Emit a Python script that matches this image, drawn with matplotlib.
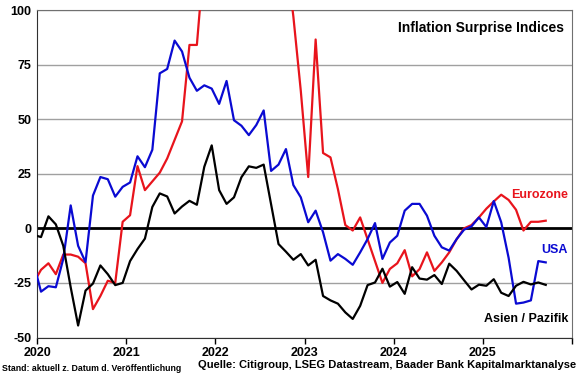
import numpy as np
import matplotlib
matplotlib.use('Agg')
import matplotlib.pyplot as plt

plt.rcParams['font.family'] = ['Liberation Sans', 'DejaVu Sans']

# monthly values, Dec 2019 .. Sep 2025
start_year = 2019
start_month = 12

eurozone = [-25, -19, -16, -21, -12, -12, -13, -16, -37, -31, -24, -25, 3, 6,
            28.5, 17.5, 21.5, 25.5, 32, 40.5, 49, 84, 84, 125, 140, 150, 160,
            165, 170, 160, 155, 150, 140, 135, 125, 97, 63, 23.5, 86.5, 34.5,
            32.5, 18, 1.5, -1, 5, -5, -15, -25, -18.6, -16, -10, -22, -18.7,
            -11, -19.5, -15.6, -11, -5, 0, 1.5, 5, 9, 12.3, 15.4, 13, 8.5, -1,
            3, 3, 3.5]
usa = [-16, -29, -26.5, -27, -14, 10.5, -8, -15.5, 15, 23.5, 22.5, 14.5, 19,
       21, 33, 28, 36, 71, 73, 86, 81, 69, 63, 65.5, 64, 57, 67.5, 49.5, 47,
       42.7, 47.3, 54, 26.3, 29.2, 36.3, 19.8, 14.2, 2.8, 8.1, -1.8, -14.8,
       -11.8, -14, -16.7, -11, -4.9, 2.4, -14, -6.5, -3.4, 8.1, 11.2, 11.2,
       5.8, -3.4, -8.7, -10.2, -4.9, -0.6, 0.9, 5, 0.6, 12.5, 2.8, -13.5,
       -34.5, -34, -33, -15, -15.6]
asia = [-3, -4, 5.5, 1.8, -8, -27, -44.5, -28.5, -25.3, -17, -21, -26, -25,
        -15, -9.5, -4.7, 9.8, 16, 14.6, 6.8, 10, 12.6, 10.8, 28.2, 38, 17.5,
        11.2, 14.2, 23.4, 28.4, 27.7, 29.2, 11, -7.2, -10.7, -14.4, -11.8,
        -17, -14.4, -31, -33, -34.5, -38.5, -41.5, -35.5, -26, -24.8, -18.5,
        -26.7, -24.6, -30, -17.8, -23, -23.5, -21.4, -25.5, -16.2, -19.5,
        -23.8, -28, -25.8, -26.3, -23.3, -29.5, -31, -26.3, -24.5, -25.7,
        -24.8, -25.9]

years = [2020, 2021, 2022, 2023, 2024, 2025, 2026]
year_labels = ['2020', '2021', '2022', '2023', '2024', '2025', '']
yticks = [-50, -25, 0, 25, 50, 75, 100]

n = len(eurozone)
t = start_year + (start_month - 1 + np.arange(n) + 0.5) / 12.0

fig = plt.figure(figsize=(5.8, 3.75), dpi=100)
ax = fig.add_axes([0.0643, 0.1, 0.9214, 0.8733])

for yv in yticks:
    if yv != 0:
        ax.axhline(yv, color='#a0a0a0', lw=1.0, zorder=1)
ax.axhline(0, color='black', lw=2.0, zorder=2)

ax.plot(t, eurozone, color='#e8141c', lw=1.6, zorder=3)
ax.plot(t, usa, color='#0a0ad2', lw=1.6, zorder=4)
ax.plot(t, asia, color='black', lw=1.6, zorder=5)

ax.set_xlim(2020, 2026)
ax.set_ylim(-50, 100)
ax.set_xticks(years)
ax.set_xticklabels(year_labels, fontweight='bold', fontsize=9)
ax.set_yticks(yticks)
ax.set_yticklabels([str(v) for v in yticks], fontweight='bold', fontsize=9)
ax.tick_params(axis='x', length=4, width=1, pad=3)
ax.tick_params(axis='y', length=0, pad=4)

for s in ['left', 'bottom']:
    ax.spines[s].set_color('#303030')
for s in ['top', 'right']:
    ax.spines[s].set_color('#707070')

ax.text(0.985, 0.965, 'Inflation Surprise Indices', transform=ax.transAxes,
        ha='right', va='top', fontsize=10, fontweight='bold')
ax.text(0.993, 0.436, 'Eurozone', transform=ax.transAxes, ha='right',
        va='center', fontsize=9, fontweight='bold', color='#e8141c')
ax.text(0.993, 0.267, 'USA', transform=ax.transAxes, ha='right',
        va='center', fontsize=9, fontweight='bold', color='#0a0ad2')
ax.text(0.993, 0.057, 'Asien / Pazifik', transform=ax.transAxes, ha='right',
        va='center', fontsize=9, fontweight='bold', color='black')

fig.text(0.004, 0.018, 'Stand: aktuell z. Datum d. Veröffentlichung',
         fontsize=6.3, fontweight='bold', ha='left', va='center')
fig.text(0.993, 0.027, 'Quelle: Citigroup, LSEG Datastream, Baader Bank Kapitalmarktanalyse',
         fontsize=8, fontweight='bold', ha='right', va='center')

fig.savefig('out.png', dpi=100)
